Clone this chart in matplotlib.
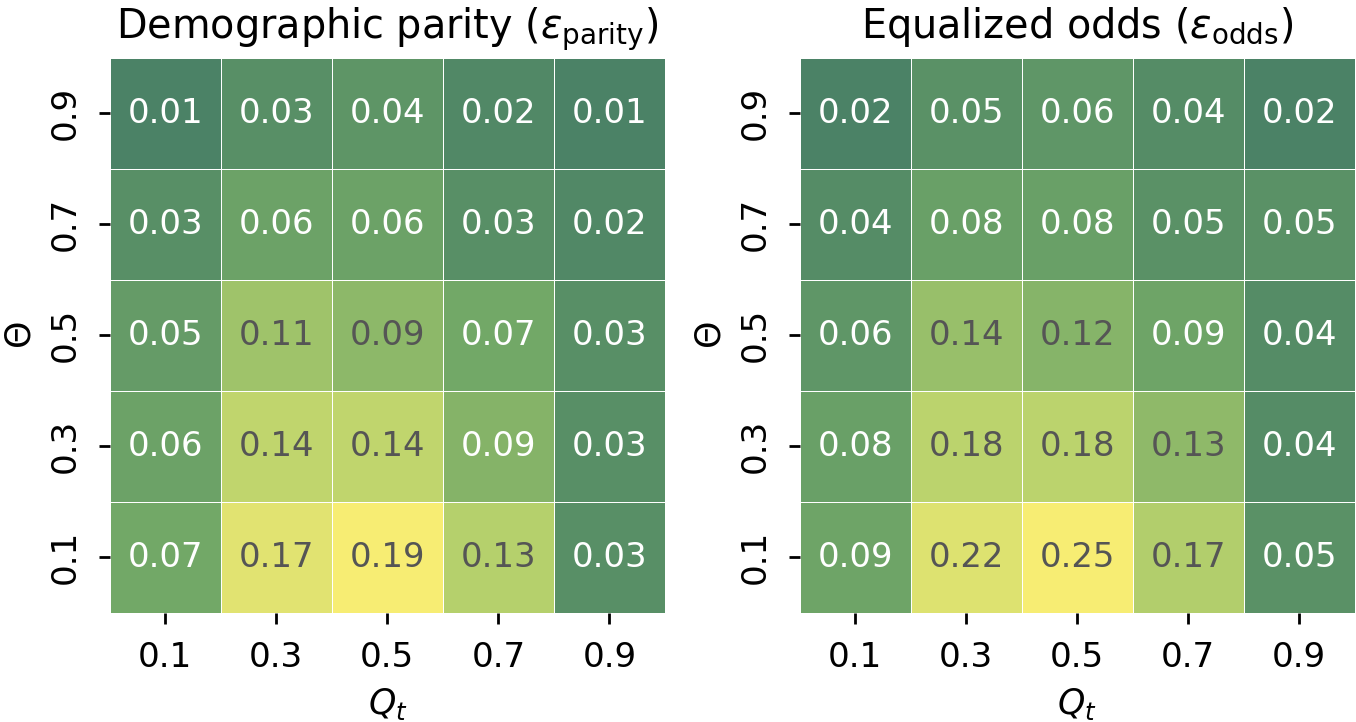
import numpy as np
import seaborn as sns
from matplotlib import pyplot as plt
from matplotlib.colors import LinearSegmentedColormap

q_labels = ["0.1", "0.3", "0.5", "0.7", "0.9"]
theta_labels = ["0.9", "0.7", "0.5", "0.3", "0.1"]

parity = [
    [0.01, 0.03, 0.04, 0.02, 0.01],
    [0.03, 0.06, 0.06, 0.03, 0.02],
    [0.05, 0.11, 0.094, 0.07, 0.03],
    [0.06, 0.14, 0.14, 0.087, 0.03],
    [0.07, 0.17, 0.19, 0.13, 0.03],
]
odds = [
    [0.02, 0.05, 0.06, 0.04, 0.02],
    [0.04, 0.08, 0.08, 0.05, 0.05],
    [0.06, 0.14, 0.12, 0.09, 0.04],
    [0.08, 0.18, 0.18, 0.13, 0.04],
    [0.09, 0.22, 0.25, 0.17, 0.05],
]
titles = [r"Demographic parity ($\varepsilon_{\mathrm{parity}}$)",
          r"Equalized odds ($\varepsilon_{\mathrm{odds}}$)"]

cmap = LinearSegmentedColormap.from_list(
    "greenyellow", ["#4b8266", "#72a867", "#b5d06c", "#f7ed73"])

fig, axes = plt.subplots(1, 2, figsize=(6.78, 3.61), dpi=200)
fig.subplots_adjust(left=0.081, right=0.999, top=0.92, bottom=0.151, wspace=0.243)

for ax, data, title in zip(axes, [parity, odds], titles):
    arr = np.array(data)
    sns.heatmap(arr, ax=ax, cmap=cmap, annot=True, fmt=".2f", cbar=False,
                linewidths=0.3, linecolor="white", square=True,
                vmin=arr.min(), vmax=arr.max(),
                xticklabels=q_labels, yticklabels=theta_labels,
                annot_kws={"fontsize": 12.2})
    # text colour by value
    for txt, v in zip(ax.texts, arr.flatten()):
        txt.set_color("#555555" if v / arr.max() > 0.47 else "white")
    ax.set_title(title, fontsize=14.3, pad=7)
    ax.set_xlabel("$Q_t$", fontsize=12.5, labelpad=4.5)
    ax.set_ylabel(r"$\Theta$", fontsize=12.5)
    ax.tick_params(labelsize=12.3, length=4, width=1, pad=6)
    plt.setp(ax.get_yticklabels(), rotation=90, va="center")
    plt.setp(ax.get_xticklabels(), rotation=0)

fig.savefig("out.png", dpi=200)
